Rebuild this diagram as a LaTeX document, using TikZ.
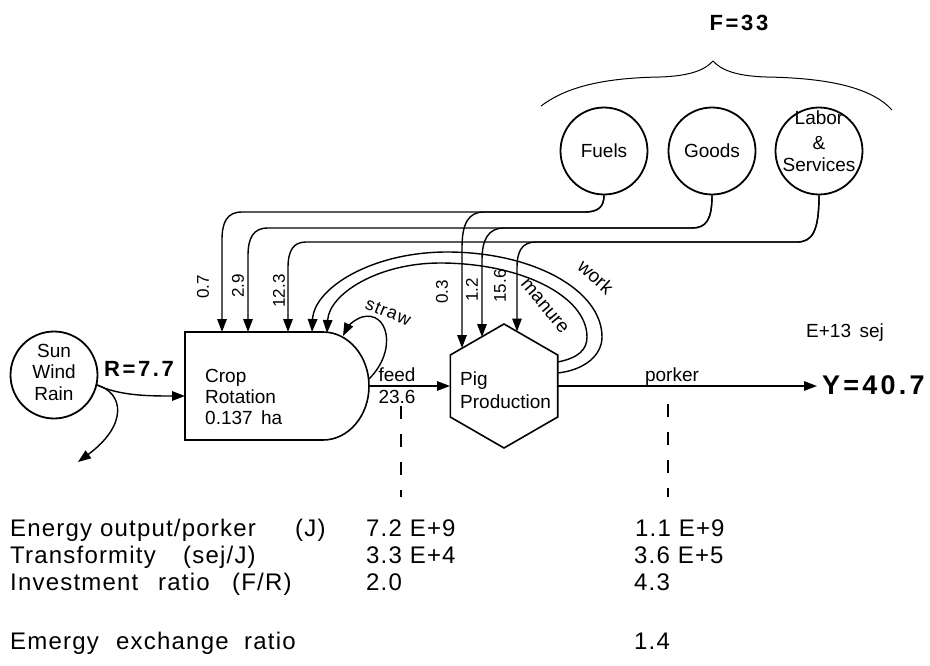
\documentclass[tikz,border=0pt]{standalone}
\usepackage{fontspec}
\setmainfont{Liberation Sans}
\newfontfamily\bsp[LetterSpace=12]{Liberation Sans}
\newfontfamily\lsp[LetterSpace=6]{Liberation Sans}
\newfontfamily\tsp[LetterSpace=5]{Liberation Sans}
\usetikzlibrary{arrows.meta}
\begin{document}
\begin{tikzpicture}[x=1pt,y=1pt,
  flow/.style={line width=1.4pt,-{Triangle[length=13pt,width=9.5pt]}},
  src/.style={circle,draw,line width=1.8pt,minimum size=87pt,inner sep=0pt},
  stxt/.style={inner sep=0pt,anchor=base,text height=14pt,text depth=3pt,font=\fontsize{19}{22}\selectfont},
  lbl/.style={inner sep=0pt,text height=14pt,text depth=3pt,font=\fontsize{19}{22}\selectfont},
  bl/.style={lbl,anchor=base west},
  num/.style={inner sep=0pt,font=\fontsize{17}{19}\selectfont,rotate=90},
  big/.style={inner sep=0pt,font=\bsp\bfseries\fontsize{22}{26}\selectfont},
  tab/.style={inner sep=0pt,anchor=base west,text height=17pt,text depth=5pt,font=\tsp\fontsize{24}{28}\selectfont},
  dsh/.style={line width=1.2pt,dash pattern=on 13pt off 15pt}
]
\useasboundingbox (0,0) rectangle (930,-666);

% ---------- sources ----------
\node[src] (sun) at (54,-375) {};
\node[stxt] (sun1) at (54,-357) {Sun};
\node[stxt] (sun2) at (54,-378) {Wind};
\node[stxt] (sun3) at (54,-400) {Rain};
\node[src] (fuels) at (604,-151) {};
\node[stxt] (fuelsT) at (604,-158) {Fuels};
\node[src] (goods) at (712,-151) {};
\node[stxt] (goodsT) at (712,-158) {Goods};
\node[src] (labor) at (819,-151) {};
\node[stxt] (lab1) at (819,-125) {Labor};
\node[stxt] (lab2) at (819,-150) {\&};
\node[stxt] (lab3) at (819,-172) {Services};

% brace and F
\draw[line width=1pt] (541,-106) .. controls (565,-88) and (600,-78) .. (660,-77)
  .. controls (690,-76) and (705,-70) .. (713,-61)
  .. controls (721,-70) and (736,-76) .. (766,-77)
  .. controls (830,-78) and (872,-88) .. (892,-110);
\node[big] (F) at (739,-23) {F=33};

% ---------- crop rotation (producer symbol) ----------
\draw[line width=1.6pt] (323,-332) -- (185,-332) -- (185,-440) -- (323,-440)
  arc[start angle=-90,end angle=90,x radius=46,y radius=54];
\node[bl] (crop1) at (205,-382) {Crop};
\node[bl] (crop2) at (205,-403) {Rotation};
\node[bl] (crop3) at (205,-424) {0.137\ \,ha};

% ---------- pig production (hexagon) ----------
\draw[line width=1.6pt] (504,-324) -- (557.7,-355) -- (557.7,-417) -- (504,-448)
  -- (450.3,-417) -- (450.3,-355) -- cycle;
\node[bl] (pig1) at (460,-385) {Pig};
\node[bl] (pig2) at (460,-408) {Production};

% ---------- coordinates ----------
\coordinate (sunE) at (97,-385);
\coordinate (cropW) at (185,-396);
\coordinate (sink) at (78,-462);
\coordinate (cropE) at (369,-386);
\coordinate (pigW) at (450,-386);
\coordinate (pigE) at (558,-386);
\coordinate (yout) at (817,-386);
\coordinate (c07) at (222,-332);
\coordinate (c29) at (248,-332);
\coordinate (c123) at (288,-332);
\coordinate (cwork) at (312,-332);
\coordinate (cman) at (327,-333);
\coordinate (p03) at (462,-348);
\coordinate (p12) at (482,-337);
\coordinate (p156) at (517,-331.5);
\coordinate (pm) at (557.7,-362);
\coordinate (pw) at (557.7,-373);
\coordinate (strawS) at (369,-379);
\coordinate (strawE) at (343,-336);

% ---------- renewable inputs ----------
\node[big] (R) at (139,-369) {R=7.7};
\draw[flow] (sunE) .. controls (120,-396) and (150,-396) .. (cropW);
\draw[flow] (sunE) .. controls (124,-393) and (128,-425) .. (sink);

% ---------- purchased inputs ----------
\draw[flow] (fuels.south) .. controls (604,-207) and (598,-212) .. (585,-212) -- (242,-212)
  .. controls (227,-212) and (222,-222) .. (222,-240) -- (c07);
\draw[flow] (fuels.south) .. controls (604,-207) and (598,-212) .. (585,-212) -- (484,-212)
  .. controls (468,-212) and (462,-224) .. (462,-248) -- (p03);
\draw[flow] (goods.south) .. controls (712,-220) and (706,-228) .. (692,-228) -- (268,-228)
  .. controls (253,-228) and (248,-238) .. (248,-256) -- (c29);
\draw[flow] (goods.south) .. controls (712,-220) and (706,-228) .. (692,-228) -- (504,-228)
  .. controls (488,-228) and (482,-240) .. (482,-260) -- (p12);
\draw[flow] (labor.south) .. controls (819,-232) and (812,-242) .. (797,-242) -- (306,-242)
  .. controls (293,-242) and (288,-251) .. (288,-268) -- (c123);
\draw[flow] (labor.south) .. controls (819,-232) and (812,-242) .. (797,-242) -- (536,-242)
  .. controls (522,-242) and (517,-251) .. (517,-268) -- (p156);

\node[num] (l07) at (203,-287) {0.7};
\node[num] (l29) at (238,-286) {2.9};
\node[num] (l123) at (279,-291) {12.3};
\node[num] (l03) at (442,-292) {0.3};
\node[num] (l12) at (472,-290) {1.2};
\node[num] (l156) at (500,-286) {15.6};

% ---------- feedbacks ----------
\draw[flow] (pw) .. controls (585,-370) and (602,-355) .. (602,-337)
  .. controls (602,-290) and (533,-252) .. (447,-252)
  .. controls (372,-252) and (314,-288) .. (cwork);
\draw[flow] (pm) .. controls (578,-358) and (587,-350) .. (587,-337)
  .. controls (587,-296) and (521,-263) .. (440,-263)
  .. controls (378,-263) and (329,-294) .. (cman);
\node[lbl,rotate=-42] (work) at (595,-278) {work};
\node[lbl,rotate=-50] (manure) at (545,-306) {manure};

\draw[flow] (strawS) .. controls (398,-350) and (388,-310) .. (362,-317)
  .. controls (353,-320) and (347,-328) .. (strawE);
\node[lbl,font=\lsp\fontsize{18}{21}\selectfont,rotate=-22] (straw) at (388,-312) {straw};

% ---------- feed and product ----------
\draw[flow] (cropE) -- (pigW);
\node[lbl,anchor=base] (feed) at (397,-381) {feed};
\node[lbl,anchor=base] (f236) at (397,-403) {23.6};
\draw[flow] (pigE) -- (yout);
\node[lbl,anchor=base] (porker) at (672,-381) {porker};
\node[big,anchor=west,font=\bsp\bfseries\fontsize{27}{30}\selectfont] (Y) at (822,-385) {Y=40.7};
\node[lbl] (units) at (845,-332) {E+13\ \,sej};

\coordinate (d1a) at (401,-406);
\coordinate (d1b) at (401,-497);
\coordinate (d2a) at (668,-404);
\coordinate (d2b) at (668,-497);
\draw[dsh] (d1a) -- (d1b);
\draw[dsh] (d2a) -- (d2b);

% ---------- table ----------
\node[tab] (t1a) at (10,-536) {Energy output/porker};
\node[tab] (t1c) at (295,-536) {(J)};
\node[tab] (t1d) at (366,-536) {7.2 E+9};
\node[tab] (t1e) at (635,-536) {1.1 E+9};
\node[tab] (t2a) at (10,-563) {Transformity};
\node[tab] (t2b) at (183,-563) {(sej/J)};
\node[tab] (t2c) at (366,-563) {3.3 E+4};
\node[tab] (t2d) at (634,-563) {3.6 E+5};
\node[tab] (t3a) at (10,-590) {Investment};
\node[tab] (t3b) at (158,-590) {ratio};
\node[tab] (t3c) at (232,-590) {(F/R)};
\node[tab] (t3d) at (366,-590) {2.0};
\node[tab] (t3e) at (634,-590) {4.3};
\node[tab] (t4a) at (10,-649) {Emergy};
\node[tab] (t4b) at (116,-649) {exchange};
\node[tab] (t4c) at (244,-649) {ratio};
\node[tab] (t4d) at (634,-649) {1.4};
\end{tikzpicture}
\end{document}
